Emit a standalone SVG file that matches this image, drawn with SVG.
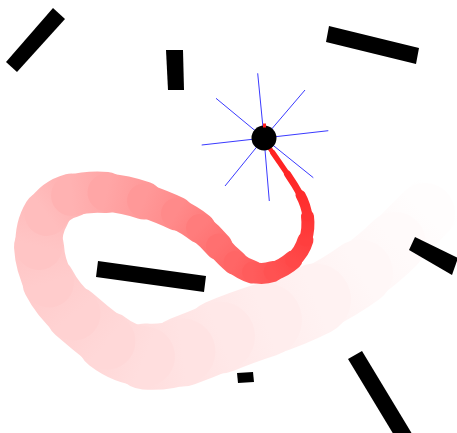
<svg xmlns="http://www.w3.org/2000/svg" width="457" height="433" viewBox="0 0 457 433">
<style>
.bar{fill:#000}
.tr{fill:none;stroke-linecap:round;stroke-linejoin:round}
.ray{stroke:#3a3aff;stroke-width:1;fill:none}
</style>
<defs>
<linearGradient id="g0" gradientUnits="userSpaceOnUse" x1="266" y1="143" x2="273" y2="153"><stop offset="0" stop-color="#ff1e1e"/><stop offset="1" stop-color="#ff2121"/></linearGradient>
<linearGradient id="g1" gradientUnits="userSpaceOnUse" x1="273" y1="153" x2="287.5" y2="174"><stop offset="0" stop-color="#ff2121"/><stop offset="1" stop-color="#ff2525"/></linearGradient>
<linearGradient id="g2" gradientUnits="userSpaceOnUse" x1="287.5" y1="174" x2="300.5" y2="195"><stop offset="0" stop-color="#ff2525"/><stop offset="1" stop-color="#ff2c2c"/></linearGradient>
<linearGradient id="g3" gradientUnits="userSpaceOnUse" x1="300.5" y1="195" x2="307.5" y2="216.5"><stop offset="0" stop-color="#ff2c2c"/><stop offset="1" stop-color="#ff3434"/></linearGradient>
<linearGradient id="g4" gradientUnits="userSpaceOnUse" x1="307.5" y1="216.5" x2="305.5" y2="240"><stop offset="0" stop-color="#ff3434"/><stop offset="1" stop-color="#ff3e3e"/></linearGradient>
<linearGradient id="g5" gradientUnits="userSpaceOnUse" x1="305.5" y1="240" x2="293" y2="260"><stop offset="0" stop-color="#ff3e3e"/><stop offset="1" stop-color="#ff4848"/></linearGradient>
<linearGradient id="g6" gradientUnits="userSpaceOnUse" x1="293" y1="260" x2="273" y2="271.5"><stop offset="0" stop-color="#ff4848"/><stop offset="1" stop-color="#ff5252"/></linearGradient>
<linearGradient id="g7" gradientUnits="userSpaceOnUse" x1="273" y1="271.5" x2="252.5" y2="272"><stop offset="0" stop-color="#ff5252"/><stop offset="1" stop-color="#ff5c5c"/></linearGradient>
<linearGradient id="g8" gradientUnits="userSpaceOnUse" x1="252.5" y1="272" x2="235" y2="262.5"><stop offset="0" stop-color="#ff5c5c"/><stop offset="1" stop-color="#ff6666"/></linearGradient>
<linearGradient id="g9" gradientUnits="userSpaceOnUse" x1="235" y1="262.5" x2="218.5" y2="246"><stop offset="0" stop-color="#ff6666"/><stop offset="1" stop-color="#ff7070"/></linearGradient>
<linearGradient id="g10" gradientUnits="userSpaceOnUse" x1="218.5" y1="246" x2="200" y2="228"><stop offset="0" stop-color="#ff7070"/><stop offset="1" stop-color="#ff7c7c"/></linearGradient>
<linearGradient id="g11" gradientUnits="userSpaceOnUse" x1="200" y1="228" x2="176.5" y2="213.5"><stop offset="0" stop-color="#ff7c7c"/><stop offset="1" stop-color="#ff8a8a"/></linearGradient>
<linearGradient id="g12" gradientUnits="userSpaceOnUse" x1="176.5" y1="213.5" x2="144" y2="200.5"><stop offset="0" stop-color="#ff8a8a"/><stop offset="1" stop-color="#ff9898"/></linearGradient>
<linearGradient id="g13" gradientUnits="userSpaceOnUse" x1="144" y1="200.5" x2="106.5" y2="192.5"><stop offset="0" stop-color="#ff9898"/><stop offset="1" stop-color="#ffa6a6"/></linearGradient>
<linearGradient id="g14" gradientUnits="userSpaceOnUse" x1="106.5" y1="192.5" x2="71.5" y2="195.5"><stop offset="0" stop-color="#ffa6a6"/><stop offset="1" stop-color="#ffb2b2"/></linearGradient>
<linearGradient id="g15" gradientUnits="userSpaceOnUse" x1="71.5" y1="195.5" x2="46.5" y2="214"><stop offset="0" stop-color="#ffb2b2"/><stop offset="1" stop-color="#ffbdbd"/></linearGradient>
<linearGradient id="g16" gradientUnits="userSpaceOnUse" x1="46.5" y1="214" x2="39" y2="246.5"><stop offset="0" stop-color="#ffbdbd"/><stop offset="1" stop-color="#ffc5c5"/></linearGradient>
<linearGradient id="g17" gradientUnits="userSpaceOnUse" x1="39" y1="246.5" x2="49" y2="282.5"><stop offset="0" stop-color="#ffc5c5"/><stop offset="1" stop-color="#ffcccc"/></linearGradient>
<linearGradient id="g18" gradientUnits="userSpaceOnUse" x1="49" y1="282.5" x2="74" y2="314"><stop offset="0" stop-color="#ffcccc"/><stop offset="1" stop-color="#ffd2d2"/></linearGradient>
<linearGradient id="g19" gradientUnits="userSpaceOnUse" x1="74" y1="314" x2="107.5" y2="341.5"><stop offset="0" stop-color="#ffd2d2"/><stop offset="1" stop-color="#ffd8d8"/></linearGradient>
<linearGradient id="g20" gradientUnits="userSpaceOnUse" x1="107.5" y1="341.5" x2="145" y2="356.5"><stop offset="0" stop-color="#ffd8d8"/><stop offset="1" stop-color="#ffdede"/></linearGradient>
<linearGradient id="g21" gradientUnits="userSpaceOnUse" x1="145" y1="356.5" x2="182.5" y2="351.5"><stop offset="0" stop-color="#ffdede"/><stop offset="1" stop-color="#ffe3e3"/></linearGradient>
<linearGradient id="g22" gradientUnits="userSpaceOnUse" x1="182.5" y1="351.5" x2="220" y2="336.5"><stop offset="0" stop-color="#ffe3e3"/><stop offset="1" stop-color="#ffe8e8"/></linearGradient>
<linearGradient id="g23" gradientUnits="userSpaceOnUse" x1="220" y1="336.5" x2="265" y2="320"><stop offset="0" stop-color="#ffe8e8"/><stop offset="1" stop-color="#ffeded"/></linearGradient>
<linearGradient id="g24" gradientUnits="userSpaceOnUse" x1="265" y1="320" x2="315" y2="299.5"><stop offset="0" stop-color="#ffeded"/><stop offset="1" stop-color="#fff2f2"/></linearGradient>
<linearGradient id="g25" gradientUnits="userSpaceOnUse" x1="315" y1="299.5" x2="360" y2="272.5"><stop offset="0" stop-color="#fff2f2"/><stop offset="1" stop-color="#fff7f7"/></linearGradient>
<linearGradient id="g26" gradientUnits="userSpaceOnUse" x1="360" y1="272.5" x2="395" y2="243"><stop offset="0" stop-color="#fff7f7"/><stop offset="1" stop-color="#fffafa"/></linearGradient>
<linearGradient id="g27" gradientUnits="userSpaceOnUse" x1="395" y1="243" x2="425" y2="213"><stop offset="0" stop-color="#fffafa"/><stop offset="1" stop-color="#fffdfd"/></linearGradient>
<linearGradient id="g28" gradientUnits="userSpaceOnUse" x1="425" y1="213" x2="440" y2="198"><stop offset="0" stop-color="#fffdfd"/><stop offset="1" stop-color="#ffffff"/></linearGradient>
</defs>
<rect width="457" height="433" fill="#fff"/>
<g id="trail">
<path class="tr" d="M425,213 L440,198" stroke="url(#g28)" stroke-width="58"/>
<path class="tr" d="M395,243 Q410,228 425,213" stroke="url(#g27)" stroke-width="60"/>
<path class="tr" d="M360,272.5 Q380,258 395,243" stroke="url(#g26)" stroke-width="62"/>
<path class="tr" d="M315,299.5 Q340,287 360,272.5" stroke="url(#g25)" stroke-width="66"/>
<path class="tr" d="M265,320 Q290,312 315,299.5" stroke="url(#g24)" stroke-width="72"/>
<path class="tr" d="M220,336.5 Q240,328 265,320" stroke="url(#g23)" stroke-width="74"/>
<path class="tr" d="M182.5,351.5 Q200,345 220,336.5" stroke="url(#g22)" stroke-width="70"/>
<path class="tr" d="M145,356.5 Q165,358 182.5,351.5" stroke="url(#g21)" stroke-width="66"/>
<path class="tr" d="M107.5,341.5 Q125,355 145,356.5" stroke="url(#g20)" stroke-width="60"/>
<path class="tr" d="M74,314 Q90,328 107.5,341.5" stroke="url(#g19)" stroke-width="56"/>
<path class="tr" d="M49,282.5 Q58,300 74,314" stroke="url(#g18)" stroke-width="53"/>
<path class="tr" d="M39,246.5 Q40,265 49,282.5" stroke="url(#g17)" stroke-width="50"/>
<path class="tr" d="M46.5,214 Q38,228 39,246.5" stroke="url(#g16)" stroke-width="47"/>
<path class="tr" d="M71.5,195.5 Q55,200 46.5,214" stroke="url(#g15)" stroke-width="44"/>
<path class="tr" d="M106.5,192.5 Q88,191 71.5,195.5" stroke="url(#g14)" stroke-width="41"/>
<path class="tr" d="M144,200.5 Q125,194 106.5,192.5" stroke="url(#g13)" stroke-width="38"/>
<path class="tr" d="M176.5,213.5 Q163,207 144,200.5" stroke="url(#g12)" stroke-width="34"/>
<path class="tr" d="M200,228 Q190,220 176.5,213.5" stroke="url(#g11)" stroke-width="31"/>
<path class="tr" d="M218.5,246 Q210,236 200,228" stroke="url(#g10)" stroke-width="28"/>
<path class="tr" d="M235,262.5 Q227,256 218.5,246" stroke="url(#g9)" stroke-width="25"/>
<path class="tr" d="M252.5,272 Q243,269 235,262.5" stroke="url(#g8)" stroke-width="23"/>
<path class="tr" d="M273,271.5 Q262,275 252.5,272" stroke="url(#g7)" stroke-width="21"/>
<path class="tr" d="M293,260 Q284,268 273,271.5" stroke="url(#g6)" stroke-width="19"/>
<path class="tr" d="M305.5,240 Q302,252 293,260" stroke="url(#g5)" stroke-width="16"/>
<path class="tr" d="M307.5,216.5 Q309,228 305.5,240" stroke="url(#g4)" stroke-width="13"/>
<path class="tr" d="M300.5,195 Q306,205 307.5,216.5" stroke="url(#g3)" stroke-width="10"/>
<path class="tr" d="M287.5,174 Q295,185 300.5,195" stroke="url(#g2)" stroke-width="7"/>
<path class="tr" d="M273,153 Q280,163 287.5,174" stroke="url(#g1)" stroke-width="5.5"/>
<path class="tr" d="M266,143 L273,153" stroke="url(#g0)" stroke-width="4.5"/>
</g>
<g id="obstacles">
<polygon id="bar1" class="bar" points="53,8 65,19 17,72 6,62"/>
<polygon id="bar2" class="bar" points="166,50 183,50 184,90 168,90"/>
<polygon id="bar3" class="bar" points="329,26 419,48 416,64 326,42"/>
<polygon id="bar4" class="bar" points="98,261 206,276 204,292 96,277"/>
<polygon id="bar5" class="bar" points="415,237 458,258 452,275 409,250"/>
<polygon id="bar6" class="bar" points="237,373 253,372 254,382 238,383"/>
<polygon id="bar7" class="bar" points="348,359 362,351 420,447 406,455"/>
</g>
<g id="robot">
<g class="ray">
<line x1="264" y1="138" x2="257.7" y2="73.3"/>
<line x1="264" y1="138" x2="305" y2="90"/>
<line x1="264" y1="138" x2="328.3" y2="130.7"/>
<line x1="264" y1="138" x2="313.3" y2="177.7"/>
<line x1="264" y1="138" x2="269.3" y2="201"/>
<line x1="264" y1="138" x2="225" y2="186"/>
<line x1="264" y1="138" x2="201.7" y2="145"/>
<line x1="264" y1="138" x2="216" y2="98.3"/>
</g>
<circle cx="264" cy="138" r="12.5" fill="#000"/>
<rect x="263" y="123.5" width="3" height="4" fill="#ff1e1e"/>
</g>
</svg>
